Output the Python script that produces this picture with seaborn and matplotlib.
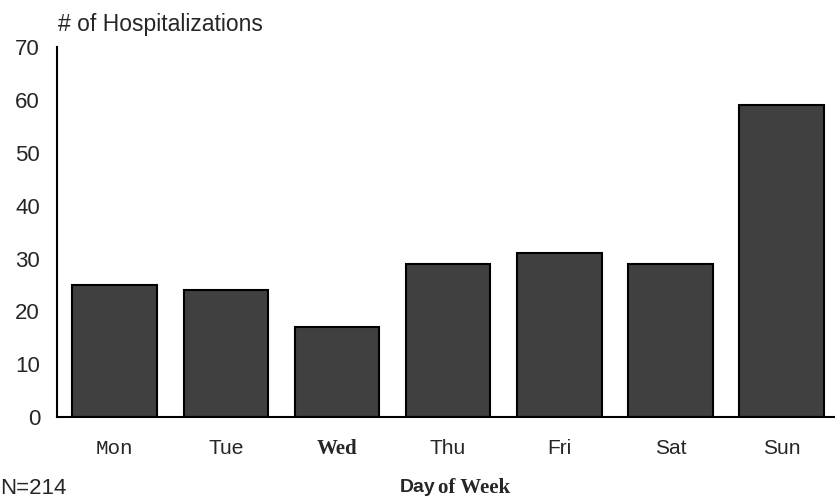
import matplotlib
matplotlib.use("Agg")
import matplotlib.pyplot as plt
import seaborn as sns
import pandas as pd

days = ['Mon', 'Tue', 'Wed', 'Thu', 'Fri', 'Sat', 'Sun']
hospitalizations = [25, 24, 17, 29, 31, 29, 59]
y_ticks = [0, 10, 20, 30, 40, 50, 60, 70]

df = pd.DataFrame({'Day': days, 'Count': hospitalizations})

sns.set_style('white')
plt.rcParams['font.family'] = ['Liberation Sans', 'DejaVu Sans']

fig = plt.figure(figsize=(8.35, 4.97), dpi=100)
ax = fig.add_axes([0.068, 0.161, 0.932, 0.744])

sns.barplot(data=df, x='Day', y='Count', color='#404040', saturation=1,
            edgecolor='black', linewidth=1.5, width=0.76, ax=ax)

ax.set_ylim(0, 70)
ax.set_xlim(-0.52, 6.48)
ax.set_yticks(y_ticks)
ax.set_yticklabels([str(t) for t in y_ticks], fontsize=16)
ax.tick_params(axis='both', length=0)
ax.tick_params(axis='y', pad=12)
ax.tick_params(axis='x', pad=16)
ax.set_xlabel('')
ax.set_ylabel('')

# the scanned labels use a mix of typefaces
label_fonts = {
    'Mon': dict(family='Liberation Mono', weight='normal'),
    'Wed': dict(family='Liberation Serif', weight='bold'),
}
for lab in ax.get_xticklabels():
    lab.set_fontsize(15)
    f = label_fonts.get(lab.get_text())
    if f:
        lab.set_fontfamily(f['family'])
        lab.set_fontweight(f['weight'])

for side in ['top', 'right']:
    ax.spines[side].set_visible(False)
for side in ['left', 'bottom']:
    ax.spines[side].set_color('black')
    ax.spines[side].set_linewidth(1.5)

fig.text(58 / 835, 1 - 25 / 497, '# of Hospitalizations', fontsize=16.5,
         ha='left', va='center')
fig.text(0.0, 1 - 488 / 497, 'N=214', fontsize=16, ha='left', va='center')
fig.text(400 / 835, 1 - 488 / 497, 'Day', fontsize=14, fontweight='bold',
         ha='left', va='center')
fig.text(438 / 835, 1 - 488 / 497, 'of Week', fontsize=15, fontweight='bold',
         family='Liberation Serif', ha='left', va='center')

fig.savefig('out.png', dpi=100)
